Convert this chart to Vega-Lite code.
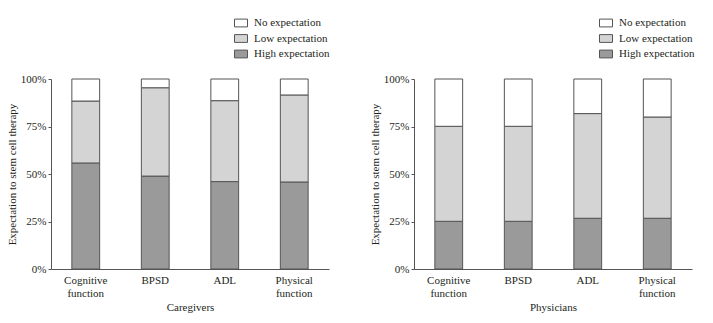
{
  "$schema": "https://vega.github.io/schema/vega-lite/v6.json",
  "background": "white",
  "padding": {"left": 6, "top": 16, "right": 0, "bottom": 0},
  "spacing": 39,
  "datasets": {
    "rows": [
      {"group": "Caregivers", "domain": "Cognitive function", "level": "High expectation", "rank": 1, "pct": 55.8},
      {"group": "Caregivers", "domain": "Cognitive function", "level": "Low expectation", "rank": 2, "pct": 32.6},
      {"group": "Caregivers", "domain": "Cognitive function", "level": "No expectation", "rank": 3, "pct": 11.6},
      {"group": "Caregivers", "domain": "BPSD", "level": "High expectation", "rank": 1, "pct": 48.9},
      {"group": "Caregivers", "domain": "BPSD", "level": "Low expectation", "rank": 2, "pct": 46.5},
      {"group": "Caregivers", "domain": "BPSD", "level": "No expectation", "rank": 3, "pct": 4.6},
      {"group": "Caregivers", "domain": "ADL", "level": "High expectation", "rank": 1, "pct": 46.0},
      {"group": "Caregivers", "domain": "ADL", "level": "Low expectation", "rank": 2, "pct": 42.6},
      {"group": "Caregivers", "domain": "ADL", "level": "No expectation", "rank": 3, "pct": 11.4},
      {"group": "Caregivers", "domain": "Physical function", "level": "High expectation", "rank": 1, "pct": 45.8},
      {"group": "Caregivers", "domain": "Physical function", "level": "Low expectation", "rank": 2, "pct": 45.8},
      {"group": "Caregivers", "domain": "Physical function", "level": "No expectation", "rank": 3, "pct": 8.4},
      {"group": "Physicians", "domain": "Cognitive function", "level": "High expectation", "rank": 1, "pct": 25.1},
      {"group": "Physicians", "domain": "Cognitive function", "level": "Low expectation", "rank": 2, "pct": 50.0},
      {"group": "Physicians", "domain": "Cognitive function", "level": "No expectation", "rank": 3, "pct": 24.9},
      {"group": "Physicians", "domain": "BPSD", "level": "High expectation", "rank": 1, "pct": 25.1},
      {"group": "Physicians", "domain": "BPSD", "level": "Low expectation", "rank": 2, "pct": 50.0},
      {"group": "Physicians", "domain": "BPSD", "level": "No expectation", "rank": 3, "pct": 24.9},
      {"group": "Physicians", "domain": "ADL", "level": "High expectation", "rank": 1, "pct": 26.7},
      {"group": "Physicians", "domain": "ADL", "level": "Low expectation", "rank": 2, "pct": 55.1},
      {"group": "Physicians", "domain": "ADL", "level": "No expectation", "rank": 3, "pct": 18.2},
      {"group": "Physicians", "domain": "Physical function", "level": "High expectation", "rank": 1, "pct": 26.7},
      {"group": "Physicians", "domain": "Physical function", "level": "Low expectation", "rank": 2, "pct": 53.3},
      {"group": "Physicians", "domain": "Physical function", "level": "No expectation", "rank": 3, "pct": 20.0}
    ]
  },
  "data": {"name": "rows"},
  "resolve": {"scale": {"color": "independent"}, "legend": {"color": "independent"}},
  "hconcat": [
    {
      "width": 278,
      "height": 190,
      "transform": [{"filter": "datum.group == 'Caregivers'"}],
      "mark": {"type": "bar", "stroke": "#555555", "strokeWidth": 1},
      "encoding": {
        "x": {"field": "domain", "type": "nominal", "sort": ["Cognitive function", "BPSD", "ADL", "Physical function"],
              "scale": {"paddingInner": 0.6, "paddingOuter": 0.3},
              "axis": {"title": "Caregivers", "labelAngle": 0, "ticks": false, "labelExpr": "split(datum.label, ' ')", "labelLineHeight": 13.5, "labelPadding": 5, "titlePadding": 3}},
        "y": {"field": "pct", "type": "quantitative", "stack": "zero",
              "scale": {"domain": [0, 100], "nice": false},
              "axis": {"title": "Expectation to stem cell therapy", "values": [0, 25, 50, 75, 100], "labelExpr": "datum.value + '%'", "grid": false, "tickSize": 3, "labelPadding": 2, "titlePadding": 3}},
        "color": {"field": "level", "type": "nominal",
                  "scale": {"domain": ["No expectation", "Low expectation", "High expectation"], "range": ["#ffffff", "#d4d4d4", "#9a9a9a"]},
                  "legend": {"title": null, "orient": "none", "legendX": 183, "legendY": -63}},
        "order": {"field": "rank", "type": "quantitative"}
      }
    },
    {
      "width": 278,
      "height": 190,
      "transform": [{"filter": "datum.group == 'Physicians'"}],
      "mark": {"type": "bar", "stroke": "#555555", "strokeWidth": 1},
      "encoding": {
        "x": {"field": "domain", "type": "nominal", "sort": ["Cognitive function", "BPSD", "ADL", "Physical function"],
              "scale": {"paddingInner": 0.6, "paddingOuter": 0.3},
              "axis": {"title": "Physicians", "labelAngle": 0, "ticks": false, "labelExpr": "split(datum.label, ' ')", "labelLineHeight": 13.5, "labelPadding": 5, "titlePadding": 3}},
        "y": {"field": "pct", "type": "quantitative", "stack": "zero",
              "scale": {"domain": [0, 100], "nice": false},
              "axis": {"title": "Expectation to stem cell therapy", "values": [0, 25, 50, 75, 100], "labelExpr": "datum.value + '%'", "grid": false, "tickSize": 3, "labelPadding": 2, "titlePadding": 3}},
        "color": {"field": "level", "type": "nominal",
                  "scale": {"domain": ["No expectation", "Low expectation", "High expectation"], "range": ["#ffffff", "#d4d4d4", "#9a9a9a"]},
                  "legend": {"title": null, "orient": "none", "legendX": 185, "legendY": -63}},
        "order": {"field": "rank", "type": "quantitative"}
      }
    }
  ],
  "config": {
    "font": "Liberation Serif",
    "view": {"stroke": null},
    "axis": {"labelFont": "Liberation Serif", "titleFont": "Liberation Serif", "labelFontSize": 11, "titleFontSize": 11, "titleFontWeight": "normal", "labelColor": "#231f20", "titleColor": "#231f20", "domainColor": "#555555", "tickColor": "#555555"},
    "legend": {"labelFont": "Liberation Serif", "labelFontSize": 11, "labelColor": "#231f20", "symbolType": "M-1,-0.6H1V0.6H-1Z", "symbolSize": 169, "symbolStrokeColor": "#555555", "symbolStrokeWidth": 1, "labelOffset": 6, "rowPadding": 2.5}
  }
}
